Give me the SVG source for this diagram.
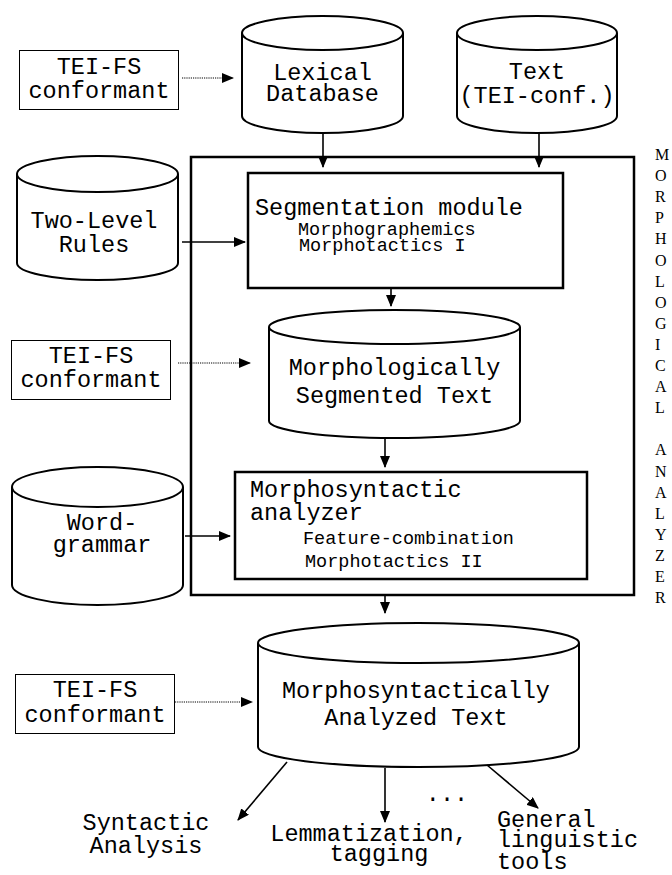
<svg xmlns="http://www.w3.org/2000/svg" width="672" height="875" viewBox="0 0 672 875">
<style>
.t{font-family:"Liberation Mono","Courier New",monospace;font-size:23.5px;fill:#000}
.s{font-family:"Liberation Mono","Courier New",monospace;font-size:18.5px;fill:#000}
.v{font-family:"Liberation Serif","Times New Roman",serif;font-size:16px;fill:#000}
.cyl{fill:#fff;stroke:#000;stroke-width:2}
.box{fill:#fff;stroke:#000;stroke-width:2.5}
.tei{fill:#fff;stroke:#000;stroke-width:1}
.c{stroke:#000;stroke-width:1.6;fill:none}
.d{stroke:#000;stroke-width:1;stroke-dasharray:1.2,1;fill:none}
</style>
<defs>
<marker id="ah" markerUnits="userSpaceOnUse" markerWidth="12" markerHeight="10" refX="11" refY="5" orient="auto">
<path d="M0,0 L12,5 L0,10 Z" fill="#000"/>
</marker>
</defs>
<rect width="672" height="875" fill="#fff"/>

<g id="big-box">
<rect x="191" y="157" width="443" height="438" fill="none" stroke="#000" stroke-width="2.5"/>
</g>

<g id="tei1">
<rect class="tei" x="19.5" y="50.5" width="159" height="59"/>
<text class="t" x="99" y="74" text-anchor="middle">TEI-FS</text>
<text class="t" x="99" y="98" text-anchor="middle">conformant</text>
</g>

<g id="lexical">
<path class="cyl" d="M242,33 L242,116 A80.5,17 0 0 0 403,116 L403,33"/>
<ellipse class="cyl" cx="322.5" cy="33" rx="80.5" ry="17"/>
<text class="t" x="322.5" y="80" text-anchor="middle">Lexical</text>
<text class="t" x="322.5" y="101" text-anchor="middle">Database</text>
</g>

<g id="text-cyl">
<path class="cyl" d="M457,33 L457,116 A80,17 0 0 0 617,116 L617,33"/>
<ellipse class="cyl" cx="537" cy="33" rx="80" ry="17"/>
<text class="t" x="537" y="79" text-anchor="middle">Text</text>
<text class="t" x="537" y="103" text-anchor="middle">(TEI-conf.)</text>
</g>

<g id="two-level">
<path class="cyl" d="M17,174 L17,263 A80.5,17 0 0 0 178,263 L178,174"/>
<ellipse class="cyl" cx="97.5" cy="174" rx="80.5" ry="18"/>
<text class="t" x="94" y="228" text-anchor="middle">Two-Level</text>
<text class="t" x="94" y="252" text-anchor="middle">Rules</text>
</g>

<g id="segmentation">
<rect class="box" x="248" y="173" width="315" height="115"/>
<text class="t" x="255" y="215">Segmentation module</text>
<text class="s" x="298" y="235">Morphographemics</text>
<text class="s" x="299" y="251">Morphotactics I</text>
</g>

<g id="tei2">
<rect class="tei" x="11.5" y="340.5" width="159" height="59"/>
<text class="t" x="91" y="363" text-anchor="middle">TEI-FS</text>
<text class="t" x="91" y="387" text-anchor="middle">conformant</text>
</g>

<g id="morph-seg">
<path class="cyl" d="M269,327 L269,421 A125.5,17 0 0 0 520,421 L520,327"/>
<ellipse class="cyl" cx="394.5" cy="327" rx="125.5" ry="17"/>
<text class="t" x="394.5" y="375" text-anchor="middle">Morphologically</text>
<text class="t" x="394.5" y="403" text-anchor="middle">Segmented Text</text>
</g>

<g id="word-grammar">
<path class="cyl" d="M12,487 L12,585 A85.5,20 0 0 0 183,585 L183,487"/>
<ellipse class="cyl" cx="97.5" cy="487" rx="85.5" ry="20"/>
<text class="t" x="102" y="530" text-anchor="middle">Word-</text>
<text class="t" x="102" y="552" text-anchor="middle">grammar</text>
</g>

<g id="morphosyntactic">
<rect class="box" x="235" y="472" width="352" height="107"/>
<text class="t" x="250" y="497">Morphosyntactic</text>
<text class="t" x="250" y="520">analyzer</text>
<text class="s" x="303" y="544">Feature-combination</text>
<text class="s" x="305" y="567">Morphotactics II</text>
</g>

<g id="tei3">
<rect class="tei" x="15.5" y="674.5" width="159" height="59"/>
<text class="t" x="95" y="697" text-anchor="middle">TEI-FS</text>
<text class="t" x="95" y="722" text-anchor="middle">conformant</text>
</g>

<g id="morph-analyzed">
<path class="cyl" d="M258,643 L258,747 A160.5,20 0 0 0 579,747 L579,643"/>
<ellipse class="cyl" cx="418.5" cy="643" rx="160.5" ry="20"/>
<text class="t" x="416" y="698" text-anchor="middle">Morphosyntactically</text>
<text class="t" x="416" y="725" text-anchor="middle">Analyzed Text</text>
</g>

<g id="vertical-label">
<text class="v" x="655" y="160">M</text>
<text class="v" x="655" y="181.1">O</text>
<text class="v" x="655" y="202.2">R</text>
<text class="v" x="655" y="223.3">P</text>
<text class="v" x="655" y="244.4">H</text>
<text class="v" x="655" y="265.5">O</text>
<text class="v" x="655" y="286.6">L</text>
<text class="v" x="655" y="307.7">O</text>
<text class="v" x="655" y="328.8">G</text>
<text class="v" x="655" y="349.9">I</text>
<text class="v" x="655" y="371">C</text>
<text class="v" x="655" y="392.1">A</text>
<text class="v" x="655" y="413.2">L</text>
<text class="v" x="655" y="455.4">A</text>
<text class="v" x="655" y="476.5">N</text>
<text class="v" x="655" y="497.6">A</text>
<text class="v" x="655" y="518.7">L</text>
<text class="v" x="655" y="539.8">Y</text>
<text class="v" x="655" y="560.9">Z</text>
<text class="v" x="655" y="582">E</text>
<text class="v" x="655" y="603.1">R</text>
</g>

<g id="outputs">
<text class="t" x="146" y="830" text-anchor="middle">Syntactic</text>
<text class="t" x="146" y="853" text-anchor="middle">Analysis</text>
<text class="t" x="369" y="841" text-anchor="middle">Lemmatization,</text>
<text class="t" x="379" y="861" text-anchor="middle">tagging</text>
<text class="t" x="497" y="827">General</text>
<text class="t" x="497" y="847">linguistic</text>
<text class="t" x="497" y="869">tools</text>
<text class="t" x="447" y="801" text-anchor="middle">...</text>
</g>

<g id="connectors">
<path class="d" d="M182,78 L233,78" marker-end="url(#ah)"/>
<path class="d" d="M178,363 L250,363" marker-end="url(#ah)"/>
<path class="d" d="M175,702 L252,702" marker-end="url(#ah)"/>
<path class="c" d="M323,133 L323,167" marker-end="url(#ah)"/>
<path class="c" d="M539,133 L539,167" marker-end="url(#ah)"/>
<path class="c" d="M182,242 L245,242" marker-end="url(#ah)"/>
<path class="c" d="M391,288 L391,306" marker-end="url(#ah)"/>
<path class="c" d="M385,439 L385,467" marker-end="url(#ah)"/>
<path class="c" d="M185,536 L230,536" marker-end="url(#ah)"/>
<path class="c" d="M385,595 L385,613" marker-end="url(#ah)"/>
<path class="c" d="M287,762 L238,820" marker-end="url(#ah)"/>
<path class="c" d="M385,768 L385,822" marker-end="url(#ah)"/>
<path class="c" d="M487,765 L538,808" marker-end="url(#ah)"/>
</g>
</svg>
